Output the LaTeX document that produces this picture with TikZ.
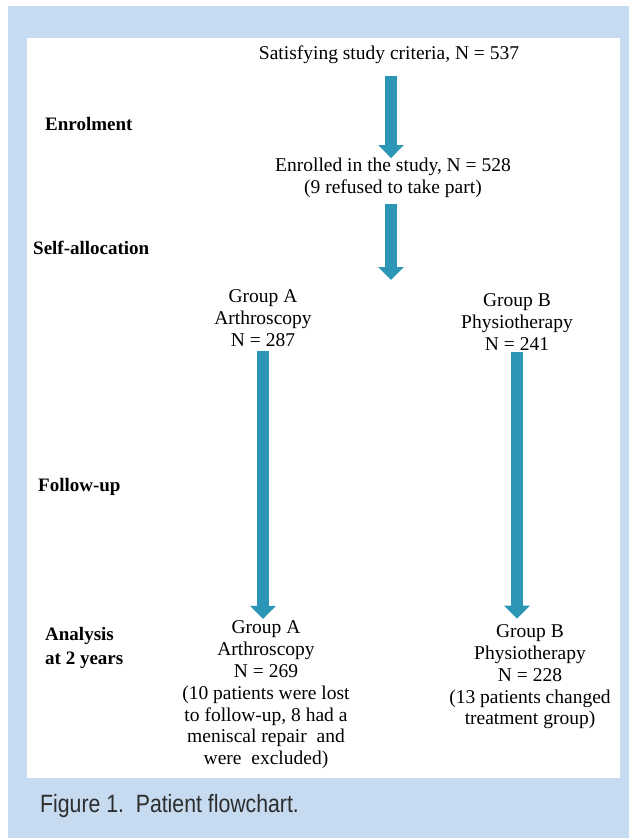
\documentclass[tikz,border=0pt]{standalone}
\usepackage{fontspec}
\setmainfont{Liberation Serif}
\newfontfamily\capfont[FakeStretch=0.85]{Liberation Sans}
\usetikzlibrary{arrows.meta}

\definecolor{panelblue}{RGB}{198,218,240}
\definecolor{flowteal}{RGB}{44,150,182}
\definecolor{captext}{RGB}{45,45,45}

\tikzset{
  txt/.style={inner sep=0pt, align=center, font=\fontsize{19.5}{21.8}\selectfont},
  stage/.style={inner sep=0pt, anchor=west, align=left, font=\fontsize{19}{24}\selectfont\bfseries},
  flow/.style={draw=flowteal, line width=12pt, -{Triangle[width=25pt,length=13pt]}, color=flowteal},
}

\begin{document}
\begin{tikzpicture}[x=1pt, y=-1pt]
    \useasboundingbox (0,0) rectangle (629,838);
    % panel
    \fill[panelblue] (8,6) rectangle (629,838);
    \fill[white] (27,38) rectangle (620,778);

    % boxes
    \node[txt] (crit) at (389,55) {Satisfying study criteria, N = 537};
    \node[txt] (enrol) at (393,178) {Enrolled in the study, N = 528\\(9 refused to take part)};
    \coordinate (split) at (391,280);
    \node[txt] (grpA) at (263,318) {Group A\\Arthroscopy\\N = 287};
    \node[txt] (grpB) at (517,322) {Group B\\Physiotherapy\\N = 241};
    \node[txt] (anaA) at (266,695) {Group A\\Arthroscopy\\N = 269\\(10 patients were lost\\to follow-up, 8 had a\\meniscal repair~ and\\were~ excluded)};
    \node[txt] (anaB) at (530,677) {Group B\\Physiotherapy\\N = 228\\(13 patients changed\\treatment group)};

    % stages
    \node[stage] (s1) at (45,124) {Enrolment};
    \node[stage] (s2) at (33,248) {Self-allocation};
    \node[stage] (s3) at (38,487) {Follow-up};
    \node[stage] (s4) at (45,648) {Analysis\\at 2 years};

    % arrows
    \draw[flow, shorten <=12pt] (crit.south -| split) -- (enrol.north -| split);
    \draw[flow, shorten <=6pt] (enrol.south -| split) -- (split);
    \draw[flow, shorten <=4pt, shorten >=2pt] (grpA.south) -- (anaA.north -| grpA.south);
    \draw[flow, shorten <=2pt, shorten >=6pt] (grpB.south) -- (anaB.north -| grpB.south);

    % caption
    \node[inner sep=0pt, anchor=base west, text=captext, font=\capfont\fontsize{25}{28}\selectfont] (cap) at (40,812) {Figure 1.\ \ Patient flowchart.};
\end{tikzpicture}
\end{document}
